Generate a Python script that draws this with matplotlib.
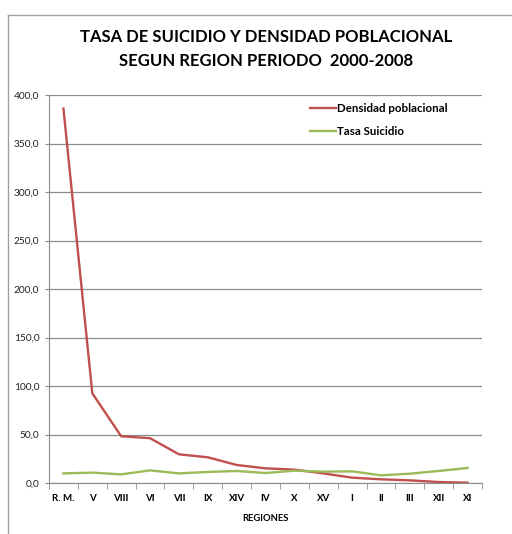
import matplotlib
matplotlib.use("Agg")
import matplotlib.pyplot as plt
from matplotlib.lines import Line2D
from matplotlib.ticker import FuncFormatter, MultipleLocator

regiones = ["R. M.", "V", "VIII", "VI", "VII", "IX", "XIV", "IV", "X", "XV",
            "I", "II", "III", "XII", "XI"]
densidad = [386.0, 92.5, 48.2, 46.2, 29.6, 26.5, 18.6, 15.1, 13.8, 9.9,
            5.5, 3.8, 2.7, 1.0, 0.3]
tasa = [9.9, 10.7, 8.9, 13.0, 9.9, 11.4, 12.4, 10.3, 12.7, 11.7,
        12.0, 7.9, 9.6, 12.4, 15.5]

plt.rcParams['font.family'] = ['Lato', 'DejaVu Sans']

W, H = 512, 534
fig = plt.figure(figsize=(W / 100, H / 100), dpi=100)
ax = fig.add_axes([49 / W, 1 - 483 / H, (482 - 49) / W, (483 - 95) / H])

x = list(range(len(regiones)))
ax.plot(x, densidad, color="#C0504D", lw=1.7, label="Densidad poblacional")
ax.plot(x, tasa, color="#9BBB59", lw=1.7, label="Tasa Suicidio")

ax.set_xlim(-0.5, len(regiones) - 0.5)
ax.set_ylim(0, 400)
ax.yaxis.set_major_locator(MultipleLocator(50))
ax.yaxis.set_major_formatter(FuncFormatter(lambda v, p: f"{v:.1f}".replace(".", ",")))
ax.grid(axis="y", color="#8C8C8C", lw=0.9)
ax.set_axisbelow(True)

ax.set_xticks(x)
ax.set_xticklabels(regiones, fontsize=7, fontweight="bold")
ax.set_xticks([i + 0.5 for i in range(-1, len(regiones))], minor=True)
ax.tick_params(axis="x", which="major", length=0, pad=8)
ax.tick_params(axis="x", which="minor", length=4, color="#8C8C8C", direction="out")
ax.tick_params(axis="y", length=3, labelsize=7.3, pad=4, colors="#8C8C8C", labelcolor="#222222")

for s in ["top", "right"]:
    ax.spines[s].set_visible(False)
ax.spines["left"].set_color("#8C8C8C")
ax.spines["bottom"].set_color("#8C8C8C")

ax.set_xlabel("REGIONES", fontsize=6.8, fontweight="bold", labelpad=8)

leg = ax.legend(loc="upper left", bbox_to_anchor=((300 - 49) / (482 - 49), 1 + 2 / 388),
                frameon=False, prop={"size": 8.3, "weight": "bold"},
                handlelength=2.2, handletextpad=0.1, labelspacing=1.0)

fig.text(266 / W, 1 - 37 / H, "TASA DE SUICIDIO Y DENSIDAD POBLACIONAL",
         ha="center", va="center", fontsize=12, fontweight="bold")
fig.text(266 / W, 1 - 61 / H, "SEGUN REGION PERIODO  2000-2008",
         ha="center", va="center", fontsize=12, fontweight="bold")

fig.add_artist(Line2D([8 / W, 8 / W], [0, 1 - 15 / H], transform=fig.transFigure,
                      color="#A0A0A0", lw=1))
fig.add_artist(Line2D([8 / W, 1], [1 - 15 / H, 1 - 15 / H], transform=fig.transFigure,
                      color="#A0A0A0", lw=1))

fig.savefig("out.png", dpi=100)
